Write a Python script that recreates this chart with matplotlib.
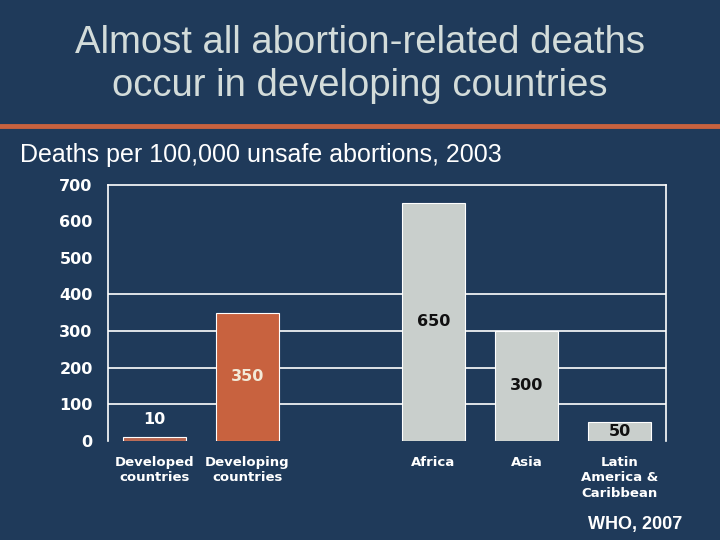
import matplotlib.pyplot as plt

categories = ['Developed\ncountries', 'Developing\ncountries', 'Africa', 'Asia',
              'Latin\nAmerica &\nCaribbean']
positions = [0, 1, 3, 4, 5]
deaths = [10, 350, 650, 300, 50]
bar_colors = ['#b8654f', '#c8623f', '#c9cfcc', '#c9cfcc', '#c9cfcc']
label_colors = ['white', '#f3ead8', '#111111', '#111111', '#111111']
yticks = [0, 100, 200, 300, 400, 500, 600, 700]
grid_values = [100, 200, 300, 400]

bg = '#1f3a5a'


def main():
    fig = plt.figure(figsize=(7.2, 5.4), dpi=100, facecolor=bg)

    # title block
    fig.text(0.5, 1 - 43 / 540, 'Almost all abortion-related deaths', ha='center', va='center',
             fontsize=27.5, color='#d3dcda', family='Liberation Sans')
    fig.text(0.5, 1 - 86 / 540, 'occur in developing countries', ha='center', va='center',
             fontsize=27.5, color='#d3dcda', family='Liberation Sans')
    fig.add_artist(plt.Line2D([0, 1], [1 - 126 / 540] * 2, color='#c8623f', lw=3.5))
    fig.text(20 / 720, 1 - 155 / 540, 'Deaths per 100,000 unsafe abortions, 2003',
             ha='left', va='center', fontsize=18, color='white', family='Liberation Sans')

    ax = fig.add_axes([108 / 720, 1 - 440.7 / 540, 558 / 720, 256 / 540])
    ax.set_facecolor(bg)

    for g in grid_values:
        ax.axhline(g, color='white', lw=1.2, zorder=1)

    ax.bar(positions, deaths, width=0.67, color=bar_colors, edgecolor='white',
           linewidth=0.8, zorder=2)

    for i, (p, v) in enumerate(zip(positions, deaths)):
        y = v + 47 if i == 0 else v / 2
        ax.text(p, y, str(v), ha='center', va='center', fontsize=11.5,
                fontweight='bold', color=label_colors[i], family='DejaVu Sans', zorder=3)

    ax.set_xlim(-0.5, 5.5)
    ax.set_ylim(0, 700)
    ax.set_yticks(yticks)
    ax.set_xticks(positions)
    ax.set_xticklabels(categories, fontsize=9.5, fontweight='bold', color='white',
                       linespacing=1.25, family='DejaVu Sans')
    for lab in ax.get_yticklabels():
        lab.set_fontsize(11.5)
        lab.set_fontweight('bold')
        lab.set_color('white')
    ax.tick_params(axis='both', length=0)
    ax.tick_params(axis='y', pad=11)
    ax.tick_params(axis='x', pad=11)

    for side in ['left', 'right', 'top']:
        ax.spines[side].set_color('white')
        ax.spines[side].set_linewidth(1.2)
    ax.spines['bottom'].set_visible(False)

    fig.text(682 / 720, 1 - 525 / 540, 'WHO, 2007', ha='right', va='center',
             fontsize=13, fontweight='bold', color='white', family='Liberation Sans')

    fig.savefig('out.png', facecolor=bg)


if __name__ == "__main__":
    main()
